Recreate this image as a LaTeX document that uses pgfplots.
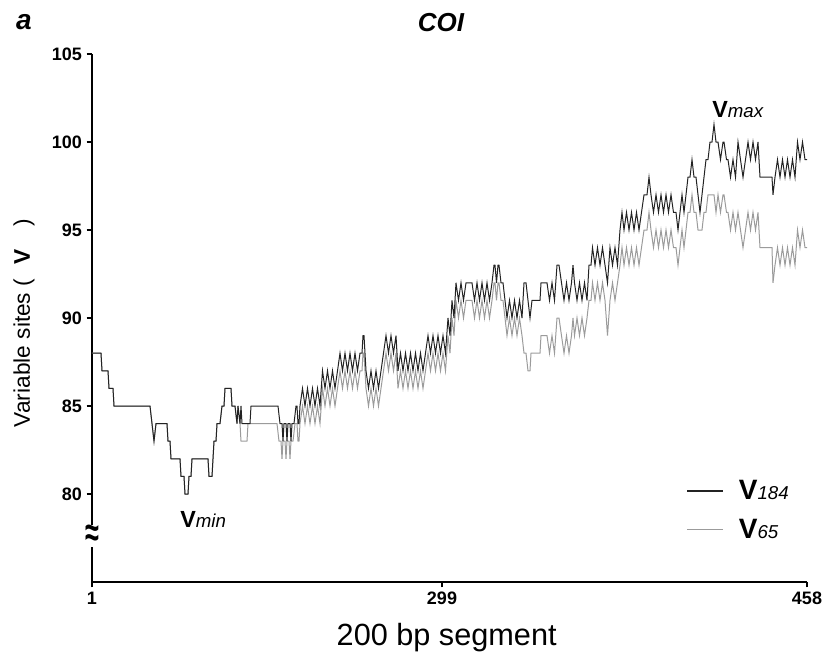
\documentclass[border=0pt]{standalone}
\usepackage{fontspec}
\setmainfont{Liberation Sans}
\usepackage{pgfplots}
\pgfplotsset{compat=1.18}
\definecolor{vdark}{RGB}{35,35,35}
\definecolor{vlight}{RGB}{155,155,155}

\begin{document}
\begin{tikzpicture}
\useasboundingbox (-69pt,-60pt) rectangle (549.75pt,436.5pt);
\begin{axis}[
  at={(0,0)}, anchor=south west,
  width=536.25pt, height=396pt, scale only axis,
  xmin=0, xmax=715, ymin=75, ymax=105,
  axis x line=bottom, axis y line=left,
  axis line style={-, line width=1.1pt, black},
  xtick={0,350,715}, xticklabels={1,299,458},
  ytick={80,85,...,105},
  tick align=outside, major tick length=4pt,
  tick style={line width=1pt, black},
  ticklabel style={font=\bfseries\fontsize{13.5}{14}\selectfont},
  /pgf/number format/assume math mode=true,
  clip=false,
  reverse legend,
  legend cell align=left,
  legend style={draw=none, fill=none, at={(rel axis cs:0.831,0.198)}, anchor=north west,
    row sep=9pt, inner sep=0pt},
  legend image code/.code={\draw[#1, line width=1.3pt] (0cm,0cm) -- (0.95cm,0cm);},
]
% V65 (light)
\addplot[vlight, line width=0.75pt] coordinates {
(0,88)(9,88)(10,87)(16,87)(17,86)(21,86)(22,85)(58,85)(60,84)(62,83)(64,84)(75,84)(76,83)(78,83)(79,82)(88,82)(89,81)(92,81)(93,80)(96,80)(97,81)(99,81)(100,82)(116,82)(117,81)(120,81)(121,82)(122,83)(124,83)(125,84)(128,84)(130,85)(132,85)(133,86)(139,86)(140,85)(143,85)(145,84)(146,85)(148,84)(149,83)(155,83)(156,84)(185,84)(187,83)(189,83)(190,82)(191,83)(193,83)(194,82)(195,83)(197,83)(198,82)(199,83)(201,83)(203,84)(205,84)(206,83)(207,83)
(208,84)(210.5,85)(213,84)(215.5,85)(218,84)(220.5,85)(223,84)(225.5,85)(228,84)
(230.5,86)(233,85)(235.5,86)(238,85)(240.5,86)(243,85)(245.5,86)
(248,87)(250.5,86)(253,87)(255.5,86)(258,87)(260.5,86)(263,87)(265.5,86)(268,87)
(270,87)(271,88)(272,88)(274,86)
(276.5,85)(279,86)(281.5,85)(284,86)(286.5,85)(289,86)
(291.5,87)(294,88)(296.5,87)(299,88)(301.5,87)(304,88)(306,86)
(308.5,87)(311,86)(313.5,87)(316,86)(318.5,87)(321,86)(323.5,87)(326,86)(328.5,87)(331,86)(333.5,87)(336,88)
(338.5,87)(341,88)(343.5,87)(346,88)(348.5,87)(351,88)(353.5,87)
(356,89)(358,88)(360,90)(362,89)(364,91)
(366.5,90)(369,91)(371.5,90)(374,91)(380,91)(382.5,90)(385,91)(387.5,90)(390,91)(392.5,90)(395,91)(397.5,90)(400,91)
(402,92)(403,92)(404.5,91)(406,92)(407,92)(409,91)(411,91)(413,90)(415,89)
(417.5,90)(420,89)(422.5,90)(425,89)(427.5,90)(430,89)
(432,88)(434,88)(436,87)(438,87)(439,88)(448,88)(449,89)(455,89)
(457.5,88)(460,89)(462.5,88)(465,90)(467,90)(469.5,89)(472,88)(474.5,89)(477,88)(479.5,89)(481,90)(482.5,89)(485,90)(487.5,89)(490,90)(492.5,89)(495,90)
(497,91)(499,91)(500.5,92)
(503,91)(505.5,92)(508,91)(510.5,92)(513,91)(515.5,89)(518,91)(520.5,92)(523,91)(525.5,92)(528,93)
(530,94)(532,93)
(534.5,94)(537,93)(539.5,94)(542,93)(544.5,94)(547,93)(549.5,94)
(552,95)(555,95)(557,96)(559,95)
(561.5,94)(564,95)(566.5,94)(569,95)(571.5,94)(574,95)(576.5,94)(579,95)(581.5,94)(584,94)(586,93)(588,94)(590,95)(592,94)(594,95)(596,96)(598,96)(600,97)(602,96)(604,96)(606,95)(608,95)(610,95)(612,96)(614,96)(616,97)(622,97)(624,96)(626,97)
(628.5,96)(631,97)(632,97)(634.5,96)(636,96)(638.5,95)(641,96)(643.5,95)(646,96)(648.5,95)(651,94)(653.5,95)(656,96)(658.5,95)(661,96)(663.5,95)(666,96)(668,94)(680,94)(681,92)(683,93)
(685.5,94)(688,93)(690.5,94)(693,93)(695.5,94)(698,93)(700.5,94)(703,93)(705.5,95)(708,94)(710.5,95)(713,94)(715,94)
};
\addlegendentry{\hspace{9pt}{\fontsize{21}{21}\selectfont\bfseries V}{\fontsize{14}{14}\selectfont\itshape 65}}
% V184 (dark)
\addplot[vdark, line width=0.75pt] coordinates {
(0,88)(9,88)(10,87)(16,87)(17,86)(21,86)(22,85)(58,85)(60,84)(62,83)(64,84)(75,84)(76,83)(78,83)(79,82)(88,82)(89,81)(92,81)(93,80)(96,80)(97,81)(99,81)(100,82)(116,82)(117,81)(120,81)(121,82)(122,83)(124,83)(125,84)(128,84)(130,85)(132,85)(133,86)(139,86)(140,85)(143,85)(145,84)(146,85)(148,84)(149,85)(150,84)(158,84)(159,85)(186,85)(188,84)
(190,84)(191,83)(192,84)(194,84)(195,83)(196,84)(198,84)(199,83)(200,84)(202,84)(204,85)(205,85)(206,84)(207,84)
(208,85)(210.5,86)(213,85)(215.5,86)(218,85)(220.5,86)(223,85)(225.5,86)(228,85)
(230.5,87)(233,86)(235.5,87)(238,86)(240.5,87)(243,86)(245.5,87)
(248,88)(250.5,87)(253,88)(255.5,87)(258,88)(260.5,87)(263,88)(265.5,87)(268,88)
(270,88)(271,89)(272,89)(274,87)
(276.5,86)(279,87)(281.5,86)(284,87)(286.5,86)(289,87)
(291.5,88)(294,89)(296.5,88)(299,89)(301.5,88)(304,89)(306,87)
(308.5,88)(311,87)(313.5,88)(316,87)(318.5,88)(321,87)(323.5,88)(326,87)(328.5,88)(331,87)(333.5,88)(336,89)
(338.5,88)(341,89)(343.5,88)(346,89)(348.5,88)(351,89)(353.5,88)
(356,90)(358,89)(360,91)(362,90)(364,92)
(366.5,91)(369,92)(371.5,91)(374,92)(380,92)(382.5,91)(385,92)(387.5,91)(390,92)(392.5,91)(395,92)(397.5,91)(400,92)
(402,93)(403,93)(404.5,92)(406,93)(407,93)(409,92)(411,92)(413,91)(415,90)
(417.5,91)(420,90)(422.5,91)(425,90)(427.5,91)(430,90)
(432,92)(434,92)(436,91)(438,90)(440,91)(448,91)(449,92)(455,92)
(457.5,91)(460,92)(462.5,91)(465,93)(467,93)(469.5,92)(472,91)(474.5,92)(477,91)(479.5,92)(481,93)(482.5,92)(485,91)(487.5,92)(490,91)(492.5,92)(495,91)
(497,93)(499,93)(500.5,94)
(503,93)(505.5,94)(508,93)(510.5,94)(513,93)(515.5,92)(518,94)(520.5,93)(523,94)(525.5,93)(528,95)
(530,96)(532,95)
(534.5,96)(537,95)(539.5,96)(542,95)(544.5,96)(547,95)(549.5,96)
(552,97)(555,97)(557,98)(559,97)
(561.5,96)(564,97)(566.5,96)(569,97)(571.5,96)(574,97)(576.5,96)(579,97)(581.5,96)(584,96)(586,95)(588,96)(590,97)(592,96)(594,97)(596,98)(598,98)(600,99)(602,98)(604,98)(606,97)(608,96)(610,97)(612,98)(614,99)(616,99)(618,100)(620,100)(622,101)(624,100)(626,100)
(628.5,99)(631,100)(632,100)(634.5,99)(636,99)(638.5,98)(641,99)(643.5,98)(646,100)(648.5,99)(651,98)(653.5,99)(656,100)(658.5,99)(661,100)(663.5,99)(666,100)(668,98)(680,98)(681,97)(683,98)
(685.5,99)(688,98)(690.5,99)(693,98)(695.5,99)(698,98)(700.5,99)(703,98)(705.5,100)(708,99)(710.5,100)(713,99)(715,99)
};
\addlegendentry{\hspace{9pt}{\fontsize{21}{21}\selectfont\bfseries V}{\fontsize{14}{14}\selectfont\itshape 184}}
% axis break mark
\node[fill=white, inner sep=0.3pt, font=\bfseries\fontsize{18}{18}\selectfont] at (axis cs:0,77.6) {\scalebox{1.05}[1.7]{≈}};
% extreme labels
\node[anchor=base west, inner sep=0pt] at (axis cs:88,78.1)
  {{\fontsize{17.5}{17.5}\selectfont\bfseries V}{\fontsize{14}{14}\selectfont\itshape min}};
\node[anchor=base west, inner sep=0pt] at (axis cs:620,101.4)
  {{\fontsize{17.5}{17.5}\selectfont\bfseries V}{\fontsize{14}{14}\selectfont\itshape max}};
\end{axis}
\node[font=\bfseries\itshape\fontsize{21}{21}\selectfont] at (-51pt,420pt) {a};
\node[font=\bfseries\itshape\fontsize{19.5}{19.5}\selectfont] at (261.75pt,419.5pt) {COI};
\node[rotate=90, anchor=west, inner sep=0pt, font=\fontsize{17}{17}\selectfont] at (-51pt,116pt)
  {Variable sites (\hspace{0.65em}\textbf{V}\hspace{1.0em})};
\node[font=\fontsize{23}{23}\selectfont] at (266pt,-42pt) {200 bp segment};
\end{tikzpicture}
\end{document}
